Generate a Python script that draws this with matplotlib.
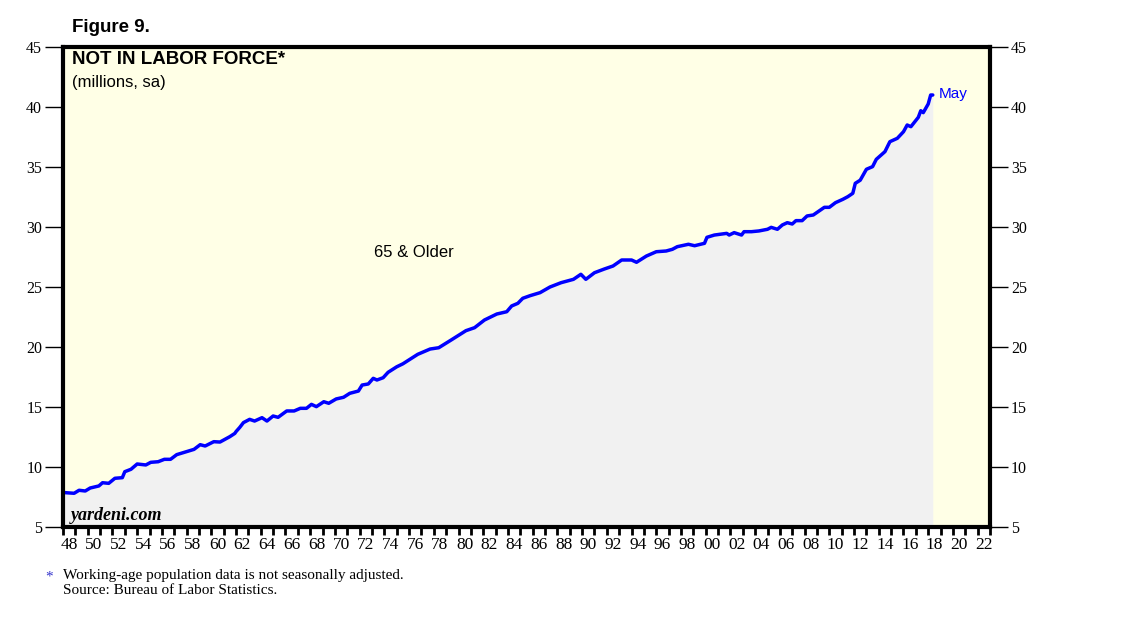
import matplotlib
matplotlib.use("Agg")
import matplotlib.pyplot as plt
from matplotlib.ticker import FixedLocator, NullFormatter, FixedFormatter

# ── DATA (millions, 65 & older not in labor force) ────
years = [1948.0, 1948.2, 1948.9, 1949.3, 1949.8, 1950.2, 1950.9, 1951.2, 1951.7,
         1952.2, 1952.8, 1953.0, 1953.5, 1954.0, 1954.7, 1955.1, 1955.7, 1956.2,
         1956.7, 1957.2, 1957.9, 1958.6, 1959.1, 1959.5, 1960.2, 1960.7, 1961.5,
         1961.9, 1962.0, 1962.3, 1962.6, 1963.1, 1963.5, 1964.1, 1964.5, 1965.0,
         1965.4, 1966.1, 1966.7, 1967.2, 1967.7, 1968.1, 1968.5, 1969.1, 1969.5,
         1970.1, 1970.7, 1971.2, 1971.9, 1972.2, 1972.7, 1973.1, 1973.4, 1973.9,
         1974.3, 1975.0, 1975.5, 1976.1, 1976.7, 1977.7, 1978.4, 1979.4, 1980.6,
         1981.3, 1982.1, 1983.1, 1983.9, 1984.3, 1984.8, 1985.2, 1985.8, 1986.6,
         1987.4, 1988.3, 1989.3, 1989.9, 1990.3, 1991.0, 1991.8, 1992.5, 1993.2,
         1994.0, 1994.4, 1995.2, 1996.0, 1996.8, 1997.3, 1997.7, 1998.6, 1999.1,
         1999.9, 2000.1, 2000.7, 2001.7, 2001.9, 2002.3, 2002.9, 2003.1, 2003.7,
         2004.3, 2005.0, 2005.3, 2005.8, 2006.2, 2006.6, 2007.0, 2007.3, 2007.8,
         2008.2, 2008.7, 2009.2, 2009.6, 2010.0, 2010.5, 2011.1, 2011.5, 2011.9,
         2012.1, 2012.5, 2013.0, 2013.5, 2013.8, 2014.5, 2014.9, 2015.5, 2016.0,
         2016.3, 2016.6, 2017.2, 2017.4, 2017.6, 2018.0, 2018.2, 2018.37]
values = [7.90, 7.86, 7.81, 8.06, 8.00, 8.25, 8.42, 8.69, 8.64,
          9.06, 9.11, 9.61, 9.81, 10.25, 10.17, 10.39, 10.44, 10.64,
          10.64, 11.03, 11.25, 11.47, 11.86, 11.75, 12.11, 12.08, 12.53,
          12.80, 12.95, 13.30, 13.70, 13.97, 13.83, 14.11, 13.83, 14.25,
          14.14, 14.67, 14.67, 14.89, 14.89, 15.22, 15.03, 15.44, 15.31,
          15.67, 15.81, 16.14, 16.33, 16.83, 16.92, 17.39, 17.25, 17.44,
          17.89, 18.35, 18.60, 19.00, 19.39, 19.83, 19.94, 20.58, 21.36,
          21.61, 22.25, 22.75, 22.94, 23.42, 23.64, 24.06, 24.28, 24.53,
          25.00, 25.36, 25.64, 26.06, 25.64, 26.19, 26.50, 26.75, 27.25,
          27.25, 27.06, 27.58, 27.94, 28.00, 28.14, 28.36, 28.56, 28.44,
          28.64, 29.14, 29.33, 29.47, 29.33, 29.53, 29.33, 29.61, 29.61,
          29.67, 29.81, 29.97, 29.81, 30.17, 30.36, 30.25, 30.53, 30.53,
          30.92, 31.00, 31.36, 31.64, 31.64, 32.03, 32.31, 32.53, 32.81,
          33.64, 33.90, 34.81, 35.03, 35.64, 36.28, 37.11, 37.39, 37.94,
          38.50, 38.36, 39.14, 39.69, 39.53, 40.25, 41.00, 41.00]

year_ticks = list(range(1948, 2024))
label_years = list(range(1948, 2023, 2))
year_labels = ['48', '50', '52', '54', '56', '58', '60', '62', '64', '66', '68',
               '70', '72', '74', '76', '78', '80', '82', '84', '86', '88', '90',
               '92', '94', '96', '98', '00', '02', '04', '06', '08', '10', '12',
               '14', '16', '18', '20', '22']
y_ticks = [5, 10, 15, 20, 25, 30, 35, 40, 45]

# ── STYLE ──────────────────────────────────────────────────────────────────
SERIF = 'Liberation Serif'
SANS = 'Liberation Sans'
BG = '#ffffe6'
FILL = '#f1f1f1'
BLUE = '#0000ff'

W, H = 1138, 621
fig = plt.figure(figsize=(W / 100, H / 100), dpi=100)
ax = fig.add_axes([63 / W, 1 - 527 / H, (990 - 63) / W, (527 - 47) / H])
ax.set_facecolor(BG)

ax.fill_between(years, values, 5, color=FILL, lw=0, zorder=1)
ax.plot(years, values, color=BLUE, lw=2.5, solid_capstyle='round', zorder=3)

ax.set_xlim(1948, 2023)
ax.set_ylim(5, 45)

for s in ax.spines.values():
    s.set_linewidth(3)
    s.set_color('black')
    s.set_zorder(5)

# y axis: both sides
ax.set_yticks(y_ticks)
ax.tick_params(axis='y', which='major', left=True, right=True,
               labelleft=True, labelright=True, length=13, width=1,
               direction='out', pad=2, labelsize=11.5)
for lab in ax.get_yticklabels():
    lab.set_fontfamily(SERIF)

# x axis: yearly ticks, labels centred mid-year every 2 years
ax.xaxis.set_major_locator(FixedLocator(year_ticks))
ax.xaxis.set_major_formatter(NullFormatter())
ax.xaxis.set_minor_locator(FixedLocator([y + 0.5 for y in label_years]))
ax.xaxis.set_minor_formatter(FixedFormatter(year_labels))
ax.tick_params(axis='x', which='major', length=6, width=2, direction='out')
ax.tick_params(axis='x', which='minor', length=0, pad=7, labelsize=12.5)
for lab in ax.get_xticklabels(minor=True):
    lab.set_fontfamily(SERIF)

# ── TEXT ───────────────────────────────────────────────────────────────────
fig.text(72 / W, 1 - 27 / H, 'Figure 9.', fontsize=13.5, fontweight='bold',
         family=SANS, va='center', ha='left')
fig.text(72 / W, 1 - 60 / H, 'NOT IN LABOR FORCE*', fontsize=13.5,
         fontweight='bold', family=SANS, va='center', ha='left')
fig.text(72 / W, 1 - 82 / H, '(millions, sa)', fontsize=12, family=SANS,
         va='center', ha='left')

ax.text(1976.4, 27.9, '65 & Older', fontsize=12, family=SANS,
        ha='center', va='center')
ax.text(years[-1] + 0.45, values[-1] + 0.1, 'May', fontsize=11,
        family=SANS, color=BLUE, ha='left', va='center')
ax.text(0.008, 0.025, 'yardeni.com', transform=ax.transAxes, fontsize=13,
        family=SERIF, fontweight='bold', style='italic', ha='left',
        va='center', zorder=6)

fig.text(45 / W, 1 - 577 / H, '*', fontsize=11, family=SERIF,
         color='#3333cc', ha='left', va='center')
fig.text(63 / W, 1 - 576 / H, 'Working-age population data is not seasonally adjusted.',
         fontsize=11, family=SERIF, ha='left', va='center')
fig.text(63 / W, 1 - 591 / H, 'Source: Bureau of Labor Statistics.',
         fontsize=11, family=SERIF, ha='left', va='center')

plt.savefig('out.png', dpi=100)
